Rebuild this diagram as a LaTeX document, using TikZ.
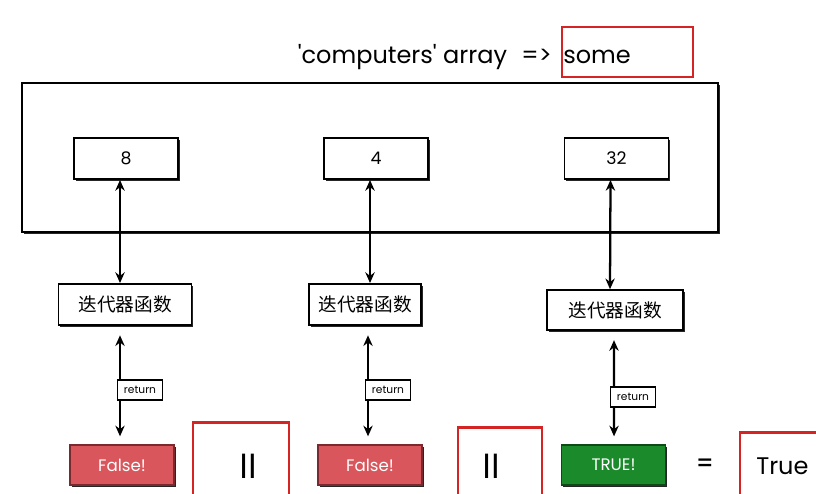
\documentclass[tikz,border=0pt]{standalone}
\usepackage{fontspec}
\newfontfamily\lat{Poppins}
\newfontfamily\latm{Poppins Medium}
\newfontfamily\cjk{Noto Sans CJK SC}
\usetikzlibrary{arrows.meta,shadows}
\definecolor{falsered}{HTML}{D9565C}
\definecolor{falseedge}{HTML}{7A2A2E}
\definecolor{truegreen}{HTML}{1B8A2B}
\definecolor{trueedge}{HTML}{0E4A16}
\definecolor{markred}{HTML}{D42424}
\begin{document}
\begin{tikzpicture}[x=0.75pt,y=-0.75pt,
  shad/.style={drop shadow={shadow xshift=1.3pt,shadow yshift=-1.3pt,opacity=0.85,fill=black}},
  valbox/.style={draw,line width=1.2pt,fill=white,shad,minimum width=78pt,minimum height=31pt,inner sep=0pt,font=\lat\fontsize{13}{15}\selectfont},
  itbox/.style={draw,line width=1.2pt,fill=white,shad,minimum height=31pt,inner sep=0pt,font=\cjk\fontsize{14}{16}\selectfont},
  retbox/.style={draw,line width=0.9pt,fill=white,minimum width=34pt,minimum height=15pt,inner sep=0pt,font=\lat\fontsize{8}{9}\selectfont},
  resbox/.style={draw,line width=1pt,minimum width=78pt,minimum height=30pt,inner sep=0pt,shad,text=white,font=\lat\fontsize{12.5}{14}\selectfont},
  markbox/.style={draw=markred,line width=1.9pt,inner sep=0pt},
  dbl/.style={{Stealth[length=8pt,width=7pt]}-{Stealth[length=8pt,width=7pt]},line width=1.7pt},
  txt/.style={font=\lat\fontsize{18}{21}\selectfont,inner sep=0pt}]
\useasboundingbox (0,0) rectangle (816,493);
\fill[white] (0,0) rectangle (816,493);
\clip (0,0) rectangle (816,493);
% title
\node[markbox,minimum width=98pt,minimum height=37.5pt] (somebox) at (627.5,52) {};
\node[txt,anchor=base west] (some) at (563,63) {some};
\node[txt,anchor=base east] (title) at (552,63) {'computers' array\hspace{0.6em}=>};
% big array box
\node[draw,line width=1.8pt,fill=white,shad,minimum width=522pt,minimum height=111.75pt,inner sep=0pt] (arr) at (370,157.5) {};
% values
\node[valbox] (v1) at (126,158.5) {8};
\node[valbox] (v2) at (376,158.5) {4};
\node[valbox] (v3) at (616.5,158.5) {32};
% iterator boxes
\node[itbox,minimum width=100pt] (it1) at (125,304.5) {迭代器函数};
\node[itbox,minimum width=84pt] (it2) at (365,304.5) {迭代器函数};
\node[itbox,minimum width=102pt,minimum height=30pt] (it3) at (615,310) {迭代器函数};
% results
\node[resbox,fill=falsered,draw=falseedge] (r1) at (122,465) {False!};
\node[resbox,fill=falsered,draw=falseedge] (r2) at (370,465) {False!};
\node[resbox,fill=truegreen,draw=trueedge] (r3) at (613.5,465) {TRUE!};
% upper arrows
\draw[dbl] ([xshift=-4.5pt]v1.south) -- ([xshift=-3.75pt]it1.north);
\draw[dbl] ([xshift=-4.5pt]v2.south) -- ([xshift=3.75pt]it2.north);
\draw[dbl] ([xshift=-4.5pt]v3.south) -- ([xshift=-3.75pt]it3.north);
% lower arrows
\draw[dbl,shorten <=7pt,shorten >=6pt] ([xshift=-3.75pt]it1.south) -- ([xshift=-1.5pt]r1.north);
\draw[dbl,shorten <=7pt,shorten >=6pt] ([xshift=2.25pt]it2.south) -- ([xshift=-1.5pt]r2.north);
\draw[dbl,shorten <=7pt,shorten >=6pt] ([xshift=-0.75pt]it3.south) -- ([xshift=0.4pt]r3.north);
\node[retbox] (ret1) at (140,390) {return};
\node[retbox] (ret2) at (388,390) {return};
\node[retbox] (ret3) at (633,397) {return};
% or markers
\node[markbox,minimum width=72pt,minimum height=56pt] (or1) at (241,460) {};
\node[txt,font=\latm\fontsize{20}{22}\selectfont] (or1t) at (248,466) {||};
\node[markbox,minimum width=63pt,minimum height=52pt] (or2) at (500,462) {};
\node[txt,font=\latm\fontsize{20}{22}\selectfont] (or2t) at (491,466) {||};
% result
\node[txt,font=\latm\fontsize{18}{20}\selectfont] (eq) at (705,465) {=};
\node[markbox,minimum width=60pt,minimum height=50pt] (resm) at (780,466) {};
\node[txt,anchor=west,font=\lat\fontsize{18}{20}\selectfont] (tru) at (756,466) {True};
\end{tikzpicture}
\end{document}
